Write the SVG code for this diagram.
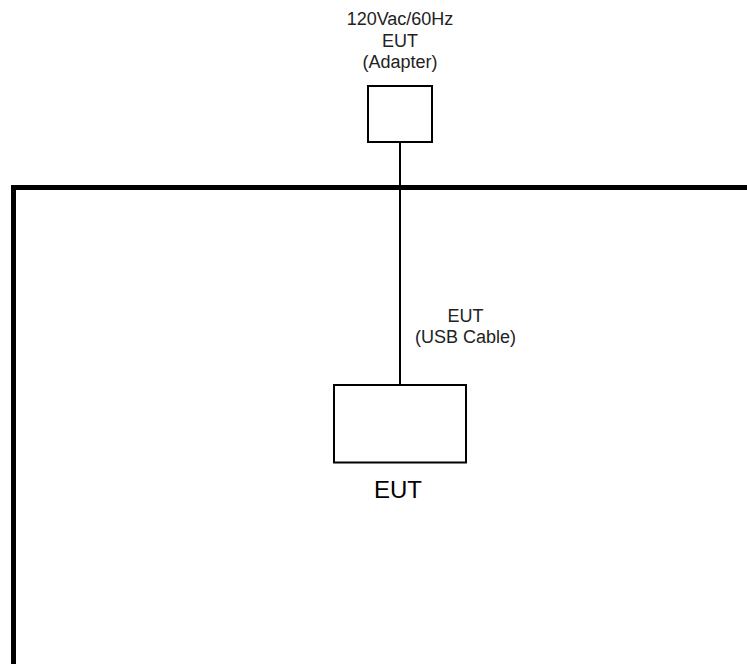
<svg xmlns="http://www.w3.org/2000/svg" width="747" height="664" viewBox="0 0 747 664">
<style>
.box{fill:#fff;stroke:#000;stroke-width:2}
.wire{fill:none;stroke:#000;stroke-width:2}
.table{fill:none;stroke:#000;stroke-width:5;stroke-linejoin:miter;stroke-linecap:butt}
.lbl{font-family:"Liberation Sans",Arial,sans-serif;font-size:18px;fill:#222;text-anchor:middle}
.big{font-family:"Liberation Sans",Arial,sans-serif;font-size:24px;fill:#000;text-anchor:middle}
</style>
<rect width="747" height="664" fill="#fff"/>
<g id="table">
<path class="table" d="M13.5 664 V187.5 H747"/>
</g>
<g id="connectors">
<line class="wire" x1="400" y1="142" x2="400" y2="385"/>
<g id="cable-label">
<text class="lbl" x="465.5" y="321.5">EUT</text>
<text class="lbl" x="465.5" y="343">(USB Cable)</text>
</g>
</g>
<g id="adapter">
<text class="lbl" x="400" y="25">120Vac/60Hz</text>
<text class="lbl" x="400" y="46.5">EUT</text>
<text class="lbl" x="400" y="68">(Adapter)</text>
<rect class="box" x="368" y="86" width="64" height="56"/>
</g>
<g id="eut">
<rect class="box" x="334" y="385" width="132" height="77.5"/>
<text class="big" x="398" y="497.5">EUT</text>
</g>
</svg>
